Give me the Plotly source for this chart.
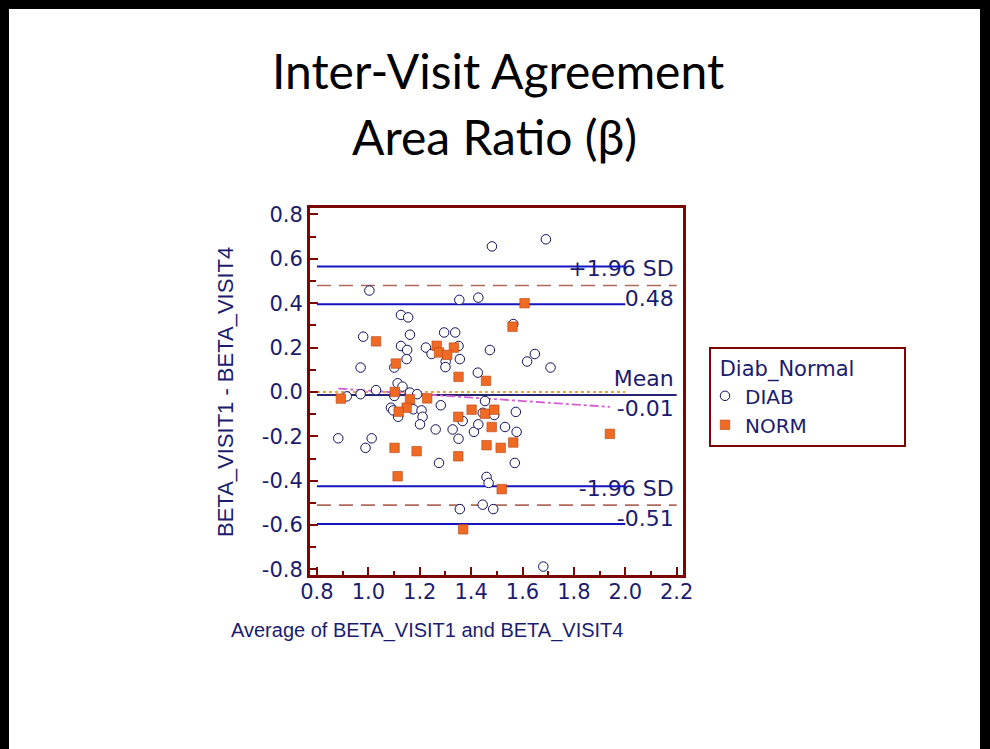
import plotly.graph_objects as go

# ---- data: Bland-Altman points (average of visits, difference of visits) ----
diab_avg = [1.004, 1.127, 1.155, 0.980, 1.162, 1.127, 1.151, 1.149, 0.970, 1.101,
            1.224, 1.246, 1.114, 1.133, 1.030, 0.970, 0.916, 1.101, 1.162, 1.190,
            1.088, 1.097, 1.116, 1.175, 1.207, 1.211, 1.201, 0.883, 1.013, 0.989,
            1.262,
            1.481, 1.691, 1.354, 1.428, 1.295, 1.338, 1.351, 1.301, 1.300, 1.356,
            1.473, 1.426, 1.564, 1.648, 1.618, 1.709, 1.282, 1.454, 1.367, 1.445,
            1.490, 1.574, 1.328, 1.351, 1.411, 1.428, 1.532, 1.577, 1.275, 1.570,
            1.460, 1.468, 1.356, 1.445, 1.486, 1.681]
diab_diff = [0.457, 0.347, 0.336, 0.249, 0.258, 0.207, 0.189, 0.148, 0.110, 0.110,
             0.200, 0.171, 0.039, 0.024, 0.008, -0.010, -0.020, -0.018, -0.003, -0.010,
             -0.071, -0.083, -0.112, -0.078, -0.083, -0.112, -0.146, -0.209, -0.209, -0.252,
             -0.169,
             0.656, 0.688, 0.415, 0.425, 0.268, 0.268, 0.207, 0.137, 0.112, 0.148,
             0.189, 0.087, 0.306, 0.171, 0.137, 0.110, -0.060, -0.041, -0.131, -0.094,
             -0.104, -0.090, -0.169, -0.211, -0.180, -0.146, -0.158, -0.180, -0.320, -0.320,
             -0.383, -0.410, -0.528, -0.508, -0.528, -0.787]

norm_avg = [1.030, 1.107, 0.893, 1.103, 1.162, 1.229, 1.149, 1.118, 1.102, 1.188,
            1.114, 1.266, 1.608, 1.561, 1.333, 1.275, 1.307, 1.351, 1.458, 1.350,
            1.402, 1.454, 1.490, 1.480, 1.460, 1.515, 1.564, 1.350, 1.519, 1.369,
            1.940]
norm_diff = [0.228, 0.128, -0.030, 0.000, -0.033, -0.029, -0.071, -0.089, -0.252, -0.267,
             -0.380, 0.208, 0.400, 0.294, 0.200, 0.178, 0.167, 0.068, 0.050, -0.112,
             -0.080, -0.098, -0.080, -0.158, -0.240, -0.252, -0.228, -0.290, -0.438, -0.619,
             -0.189]

# agreement statistics
mean_diff = -0.014
loa_upper = 0.48
loa_lower = -0.51
ci_upper = [0.395, 0.565]     # 95% CI of the upper limit
ci_lower = [-0.595, -0.425]   # 95% CI of the lower limit
reg_intercept = 0.084         # regression of difference on average
reg_slope = -0.078

x_ticks = [0.8, 1.0, 1.2, 1.4, 1.6, 1.8, 2.0, 2.2]
y_ticks = [-0.8, -0.6, -0.4, -0.2, 0.0, 0.2, 0.4, 0.6, 0.8]

# ---- layout geometry (pixels) ----
W, H = 990, 749
L, R, T, B = 310, 683, 208, 575
X_RANGE = [0.773, 2.2245]
Y_RANGE = [-0.825, 0.829]
LINE_X0, CI_X1, LINE_X1 = 0.8, 2.0, 2.2

NAVY = "#1c1c6e"
MAROON = "#7a0606"
BLUE = "#1414c0"
DASH_BROWN = "#b06a5c"
ORANGE = "#f06a24"
TXT_FONT = "DejaVu Sans"
NBSP = "\u00a0"


def px_x(px):
    return (px - L) / (R - L)


def px_y(py):
    return (B - py) / (B - T)


x_per_px = (X_RANGE[1] - X_RANGE[0]) / (R - L)
y_per_px = (Y_RANGE[1] - Y_RANGE[0]) / (B - T)
gap = 15 * y_per_px
label_x = LINE_X1 - 3 * x_per_px

fig = go.Figure()

# labels for the limit and mean lines (under the lines)
fig.add_trace(go.Scatter(
    x=[label_x] * 6,
    y=[loa_upper + gap, loa_upper - gap, mean_diff + gap, mean_diff - gap,
       loa_lower + gap, loa_lower - gap],
    text=["+1.96 SD", f"{loa_upper:.2f}", "Mean", f"{mean_diff:.2f}",
          "-1.96 SD", f"{loa_lower:.2f}"],
    mode="text", textposition="middle left",
    textfont=dict(family=TXT_FONT, size=22, color=NAVY),
    showlegend=False, hoverinfo="skip"))

# line of equality
fig.add_trace(go.Scatter(x=[LINE_X0, CI_X1], y=[0, 0], mode="lines",
                         line=dict(color="#eba236", width=2, dash="dot"),
                         showlegend=False, hoverinfo="skip"))

# confidence intervals of the limits of agreement
for v in ci_upper + ci_lower:
    fig.add_trace(go.Scatter(x=[LINE_X0, CI_X1], y=[v, v], mode="lines",
                             line=dict(color=BLUE, width=2),
                             showlegend=False, hoverinfo="skip"))

# limits of agreement
for v in (loa_upper, loa_lower):
    fig.add_trace(go.Scatter(x=[LINE_X0, LINE_X1], y=[v, v], mode="lines",
                             line=dict(color=DASH_BROWN, width=1.6, dash="14px,8px"),
                             showlegend=False, hoverinfo="skip"))

# mean difference
fig.add_trace(go.Scatter(x=[LINE_X0, LINE_X1], y=[mean_diff, mean_diff], mode="lines",
                         line=dict(color="#262672", width=2),
                         showlegend=False, hoverinfo="skip"))

# regression line over the range of averages
all_avg = diab_avg + norm_avg
rx = [min(all_avg), max(all_avg)]
fig.add_trace(go.Scatter(x=rx, y=[reg_intercept + reg_slope * v for v in rx], mode="lines",
                         line=dict(color="#d25ed2", width=1.8, dash="dashdot"),
                         showlegend=False, hoverinfo="skip"))

# points by group
fig.add_trace(go.Scatter(x=diab_avg, y=diab_diff, mode="markers", name="DIAB",
                         marker=dict(symbol="circle", size=9.5, color="white",
                                     line=dict(color="#101060", width=1))))
fig.add_trace(go.Scatter(x=norm_avg, y=norm_diff, mode="markers", name="NORM",
                         marker=dict(symbol="square", size=9.5, color=ORANGE,
                                     line=dict(color="#b04818", width=0.6))))

axis_common = dict(showline=True, linecolor=MAROON, linewidth=3, mirror=True,
                   showgrid=False, zeroline=False, ticks="inside", ticklen=8,
                   tickwidth=2, tickcolor=MAROON,
                   tickfont=dict(family=TXT_FONT, size=21, color=NAVY))

fig.update_xaxes(range=X_RANGE, tickvals=x_ticks, ticktext=[f"{v:.1f}" for v in x_ticks],
                 minor=dict(tick0=0.8, dtick=0.1, ticks="inside", ticklen=4,
                            tickwidth=2, tickcolor=MAROON),
                 ticklabelstandoff=-4,
                 **axis_common)
fig.update_yaxes(range=Y_RANGE, tickvals=y_ticks, ticktext=[f"{v:.1f}" for v in y_ticks],
                 minor=dict(tick0=0.0, dtick=0.1, ticks="inside", ticklen=6,
                            tickwidth=2, tickcolor=MAROON),
                 **axis_common)

annotations = [
    dict(text="Inter-Visit Agreement", x=px_x(498), y=px_y(70), xref="paper", yref="paper",
         showarrow=False, xanchor="center", yanchor="middle",
         font=dict(family="Lato", size=48, color="black")),
    dict(text="Area Ratio (\u03b2)", x=px_x(494), y=px_y(136), xref="paper", yref="paper",
         showarrow=False, xanchor="center", yanchor="middle",
         font=dict(family="Lato", size=48, color="black")),
    dict(text="Average of BETA_VISIT1 and BETA_VISIT4", x=px_x(427), y=px_y(630),
         xref="paper", yref="paper", showarrow=False, xanchor="center", yanchor="middle",
         font=dict(family="Liberation Sans", size=20, color=NAVY)),
    dict(text="BETA_VISIT1 - BETA_VISIT4", x=px_x(225), y=px_y(392),
         xref="paper", yref="paper", showarrow=False, xanchor="center", yanchor="middle",
         textangle=-90, font=dict(family="Liberation Sans", size=22, color=NAVY)),
]

shapes = [
    # slide frame
    dict(type="rect", xref="paper", yref="paper", x0=px_x(0), x1=px_x(9),
         y0=px_y(H), y1=px_y(0), fillcolor="black", line=dict(width=0), layer="above"),
    dict(type="rect", xref="paper", yref="paper", x0=px_x(0), x1=px_x(W),
         y0=px_y(9), y1=px_y(0), fillcolor="black", line=dict(width=0), layer="above"),
    dict(type="rect", xref="paper", yref="paper", x0=px_x(980), x1=px_x(W),
         y0=px_y(H), y1=px_y(0), fillcolor="black", line=dict(width=0), layer="above"),
]

fig.update_layout(
    width=W, height=H,
    margin=dict(l=L, r=W - R, t=T, b=H - B, autoexpand=False),
    paper_bgcolor="white", plot_bgcolor="white",
    annotations=annotations, shapes=shapes,
    legend=dict(x=px_x(709), y=px_y(347), xanchor="left", yanchor="top",
                bordercolor=MAROON, borderwidth=2, bgcolor="white",
                font=dict(family=TXT_FONT, size=20, color=NAVY),
                title=dict(text=NBSP + "Diab_Normal" + NBSP * 7,
                           font=dict(family=TXT_FONT, size=21, color=NAVY)),
                itemsizing="trace", tracegroupgap=0, indentation=-6),
)

fig.write_html("out.html")
